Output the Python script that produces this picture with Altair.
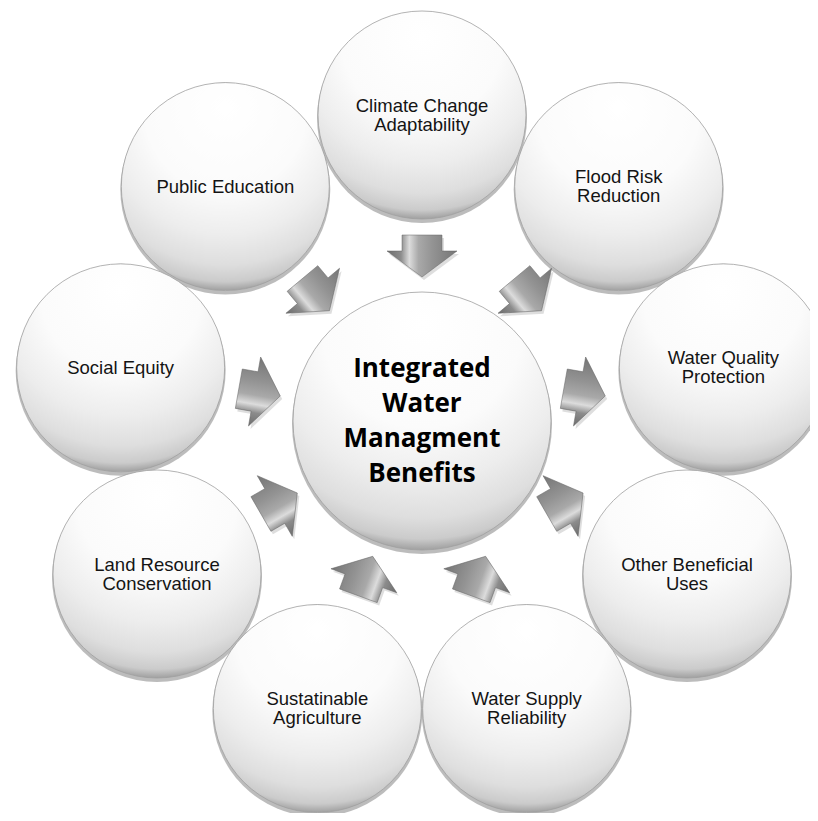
import math
import altair as alt
import pandas as pd

# ---- content -------------------------------------------------------------
center_label = "Integrated\nWater\nManagment\nBenefits"
outer_labels = [
    "Climate Change\nAdaptability",
    "Flood Risk\nReduction",
    "Water Quality\nProtection",
    "Other Beneficial\nUses",
    "Water Supply\nReliability",
    "Sustatinable\nAgriculture",
    "Land Resource\nConservation",
    "Social Equity",
    "Public Education",
]

# ---- layout (page pixel coordinates) ---------------------------------------
CX, CY = 422, 421
RING = 306
ARROW_R = 165
R_OUT = 104
R_IN = 129
LH_OUT = 19
LH_IN = 35
n = len(outer_labels)
step = 360 / n

circles, arrows = [], []
nl = center_label.count("\n")
circles.append(dict(x=CX, y=CY, ys=CY + 3, ty=CY - nl * LH_IN / 2,
                    size=(2 * R_IN) ** 2, ssize=(2 * R_IN + 2) ** 2,
                    label=center_label, center=True))
for i, lab in enumerate(outer_labels):
    a = 90 - step * i
    ar = math.radians(a)
    x = CX + RING * math.cos(ar)
    y = CY - RING * math.sin(ar)
    nl = lab.count("\n")
    circles.append(dict(x=x, y=y, ys=y + 3, ty=y - nl * LH_OUT / 2,
                        size=(2 * R_OUT) ** 2, ssize=(2 * R_OUT + 2) ** 2,
                        label=lab, center=False))
    ax = CX + ARROW_R * math.cos(ar)
    ay = CY - ARROW_R * math.sin(ar)
    d = -a if math.cos(ar) > 1e-9 else a + 180
    arrows.append(dict(x=ax, y=ay, xs=ax + 2, ys=ay + 3, rot=(-d) % 360))

cdf = pd.DataFrame(circles).sort_values("y", ascending=False)
outer_df = cdf[~cdf["center"]]
center_df = cdf[cdf["center"]]
adf = pd.DataFrame(arrows)

W, H = 802, 805
xs = alt.Scale(domain=[8, 8 + W], nice=False, zero=False)
ys = alt.Scale(domain=[8, 8 + H], nice=False, zero=False, reverse=True)
X = lambda f: alt.X(f, type="quantitative", scale=xs, axis=None)
Y = lambda f: alt.Y(f, type="quantitative", scale=ys, axis=None)

circle_fill = alt.RadialGradient(
    gradient="radial",
    x1=0.5, y1=0.12, r1=0.0,
    x2=0.5, y2=0.16, r2=0.86,
    stops=[
        alt.GradientStop(color="#ffffff", offset=0.0),
        alt.GradientStop(color="#fbfbfb", offset=0.45),
        alt.GradientStop(color="#ededed", offset=0.68),
        alt.GradientStop(color="#dedede", offset=0.84),
        alt.GradientStop(color="#cbcbcb", offset=0.93),
        alt.GradientStop(color="#8c8c8c", offset=1.0),
    ],
)

arrow_fill = alt.LinearGradient(
    gradient="linear", x1=0, y1=0, x2=0, y2=1,
    stops=[
        alt.GradientStop(color="#757575", offset=0.0),
        alt.GradientStop(color="#939393", offset=0.35),
        alt.GradientStop(color="#a9a9a9", offset=0.55),
        alt.GradientStop(color="#dcdcdc", offset=0.68),
        alt.GradientStop(color="#8c8c8c", offset=0.8),
        alt.GradientStop(color="#6c6c6c", offset=1.0),
    ],
)

# arrow pointing right, normalised to [-1, 1] (half-extent 35 px)
ARROW = ("M-0.6,-0.571L-0.143,-0.571L-0.143,-1L0.6,0L-0.143,1"
         "L-0.143,0.571L-0.6,0.571Z")

shadow = alt.Chart(cdf).mark_point(
    shape="circle", filled=True, color="#7a7a7a", opacity=0.5, strokeWidth=0
).encode(x=X("x"), y=Y("ys"), size=alt.Size("ssize:Q", scale=None))

disc = alt.Chart(cdf).mark_point(
    shape="circle", filled=True, fill=circle_fill, opacity=1,
    stroke="#a0a0a0", strokeWidth=0.8
).encode(x=X("x"), y=Y("y"), size=alt.Size("size:Q", scale=None))

arrow_shadow = alt.Chart(adf).mark_point(
    shape=ARROW, filled=True, color="#bdbdbd", opacity=0.5, strokeWidth=0
).encode(x=X("xs"), y=Y("ys"), angle=alt.Angle("rot:Q", scale=None),
         size=alt.value(4900))

arrow = alt.Chart(adf).mark_point(
    shape=ARROW, filled=True, fill=arrow_fill, opacity=1,
    stroke="#666666", strokeWidth=0.5
).encode(x=X("x"), y=Y("y"), angle=alt.Angle("rot:Q", scale=None),
         size=alt.value(4900))

outer_text = alt.Chart(outer_df).mark_text(
    font="Liberation Sans", fontSize=18.5, lineHeight=LH_OUT, lineBreak="\n",
    align="center", baseline="middle", color="#141414"
).encode(x=X("x"), y=Y("ty"), text="label:N")

center_text = alt.Chart(center_df).mark_text(
    font="Open Sans", fontWeight="bold", fontSize=26, lineHeight=LH_IN,
    lineBreak="\n", align="center", baseline="middle", color="#000000"
).encode(x=X("x"), y=Y("ty"), text="label:N")

chart = alt.layer(
    shadow, disc, arrow_shadow, arrow, outer_text, center_text
).properties(
    width=W, height=H, padding=0,
    autosize=alt.AutoSizeParams(type="none"),
    background="#ffffff",
).configure_view(stroke=None)

chart.save("out.html", embed_options={"renderer": "svg", "actions": False})
